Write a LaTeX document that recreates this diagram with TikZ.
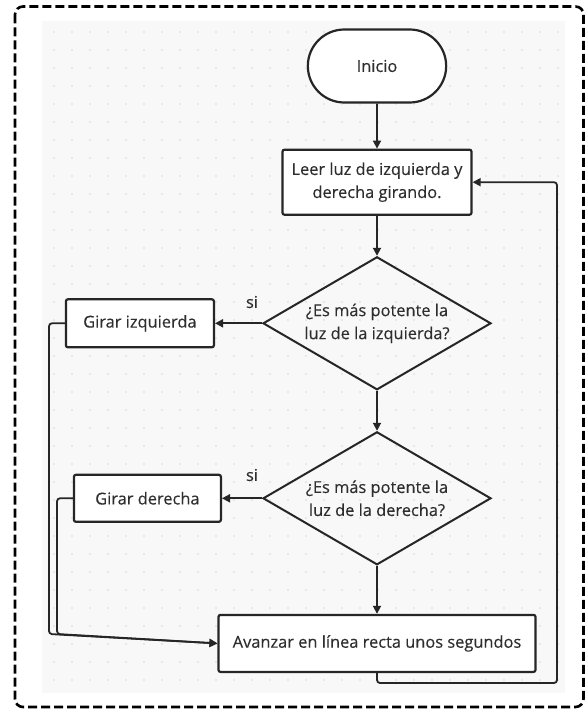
\documentclass[tikz,border=0pt]{standalone}
\usepackage{fontspec}
\setmainfont{Open Sans}[BoldFont=Open Sans,BoldFeatures={FakeBold=0.25}]
\usepackage{tikz}
\usetikzlibrary{arrows.meta,shapes.geometric,shapes.misc,positioning}
\definecolor{linea}{HTML}{262626}
\definecolor{texto}{HTML}{2E2E2E}
\definecolor{fondo}{HTML}{F8F8F8}
\definecolor{punto}{HTML}{D6D6D6}
\tikzstyle{inicio}=[rounded rectangle,draw=linea,line width=2.2pt,fill=white,text=texto,minimum width=145pt,minimum height=73pt]
\tikzstyle{proceso}=[rectangle,rounded corners=2pt,draw=linea,line width=2.2pt,fill=white,text=texto,align=center]
\tikzstyle{decision}=[diamond,aspect=1.7,draw=linea,line width=2pt,text=texto,align=center,inner sep=0pt,minimum width=228pt,minimum height=133pt]
\tikzstyle{flecha}=[line width=1.8pt,draw=linea,rounded corners=3pt,->,>={Stealth[length=8pt,width=8pt,inset=0pt]}]

\begin{document}
\begin{tikzpicture}[x=1pt,y=-1pt,font=\fontsize{16.4}{23}\selectfont\bfseries]
    \useasboundingbox (0,0) rectangle (587,709);
    % fondo con puntos
    \fill[fondo] (42,21) rectangle (565,693);
    \foreach \i in {0,...,28}
        \foreach \j in {0,...,36}
            \fill[punto] (54+18*\i,32+18*\j) circle (0.9pt);
    \draw[line width=2.6pt,dash pattern=on 9pt off 4pt,rounded corners=8pt] (15,6.5) rectangle (583.5,707);

    \node (ini) [inicio] at (377,66) {Inicio};
    \node (leer) [proceso,minimum width=189pt,minimum height=65pt] [below=45pt of ini] {Leer luz de izquierda y\\derecha girando.};
    \node (izq) [decision] [below=40pt of leer] {¿Es más potente la\\luz de la izquierda?};
    \node (der) [decision] [below=40pt of izq] {¿Es más potente la\\luz de la derecha?};
    \node (avanzar) [proceso,minimum width=317pt,minimum height=57pt] [below=48pt of der] {Avanzar en línea recta unos segundos};
    \node (girizq) [proceso,minimum width=148pt,minimum height=48pt] [left=47pt of izq] {Girar izquierda};
    \node (girder) [proceso,minimum width=147pt,minimum height=47pt] [left=40pt of der] {Girar derecha};
    \node (si1) [text=texto] at (252,302) {si};
    \node (si2) [text=texto] at (252,475) {si};

    \coordinate (retorno) at (557,683);
    \coordinate (bajaizq) at (49,634);
    \coordinate (bajader) at (57,634);

    \draw[flecha] (ini) -- (leer);
    \draw[flecha] (leer) -- (izq);
    \draw[flecha] (izq) -- (der);
    \draw[flecha] (der) -- (avanzar);
    \draw[flecha] (izq.west) -- (girizq.east);
    \draw[flecha] (der.west) -- (girder.east);

    \draw[flecha] (girizq.west) -| (bajaizq) -- (avanzar.west);
    \draw[flecha] (girder.west) -| (bajader) -- (avanzar.west);
    \draw[flecha] (avanzar.south) |- (retorno) |- (leer.east);
\end{tikzpicture}
\end{document}
